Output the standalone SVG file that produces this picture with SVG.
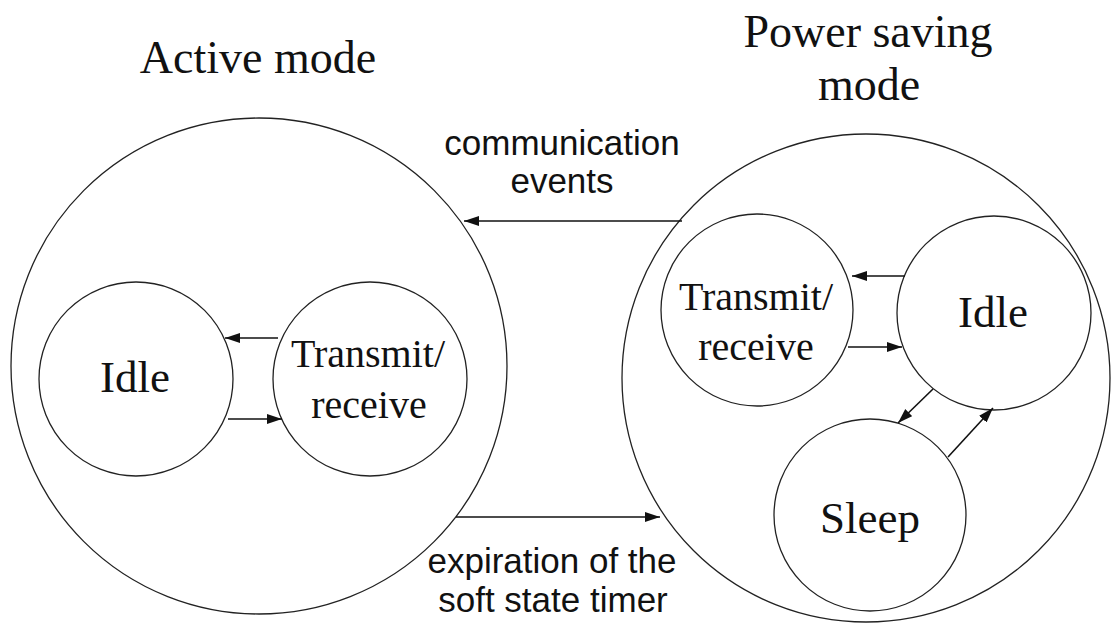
<svg xmlns="http://www.w3.org/2000/svg" width="1112" height="628" viewBox="0 0 1112 628">
<style>
.c{fill:none;stroke:#222;stroke-width:1.3}
.a{stroke:#111;stroke-width:1.6;fill:none;marker-end:url(#ah)}
.s{font-family:"Liberation Serif","Times New Roman",serif;fill:#111;text-anchor:middle}
.n{font-family:"Liberation Sans",Arial,sans-serif;fill:#111;text-anchor:middle;font-size:35px}
</style>
<defs>
<marker id="ah" markerUnits="userSpaceOnUse" markerWidth="16" markerHeight="12" refX="15" refY="5" orient="auto">
<path d="M0,0 L15,5 L0,10 Z" fill="#111"/>
</marker>
</defs>
<rect width="1112" height="628" fill="#fff"/>
<g id="active-mode">
<circle class="c" cx="259" cy="366" r="248"/>
<text class="s" x="258" y="73" font-size="46">Active mode</text>
</g>
<g id="active-idle">
<circle class="c" cx="136" cy="379" r="97"/>
<text class="s" x="135" y="392" font-size="45">Idle</text>
</g>
<g id="active-tx">
<circle class="c" cx="370" cy="379" r="97"/>
<text class="s" x="368" y="367" font-size="40">Transmit/</text>
<text class="s" x="369" y="418" font-size="40">receive</text>
</g>
<g id="power-saving-mode">
<circle class="c" cx="866" cy="378" r="244"/>
<text class="s" x="868" y="47" font-size="46">Power saving</text>
<text class="s" x="869" y="100" font-size="46">mode</text>
</g>
<g id="ps-tx">
<circle class="c" cx="757" cy="310" r="96"/>
<text class="s" x="756" y="310" font-size="40">Transmit/</text>
<text class="s" x="756" y="360" font-size="40">receive</text>
</g>
<g id="ps-idle">
<circle class="c" cx="994" cy="313" r="97"/>
<text class="s" x="993" y="327" font-size="45">Idle</text>
</g>
<g id="ps-sleep">
<circle class="c" cx="870" cy="515" r="96"/>
<text class="s" x="870" y="533" font-size="45">Sleep</text>
</g>
<g id="connectors">
<line class="a" x1="278" y1="338" x2="225" y2="338"/>
<line class="a" x1="228" y1="419" x2="282" y2="419"/>
<line class="a" x1="905" y1="276" x2="852" y2="276"/>
<line class="a" x1="848" y1="347" x2="902" y2="347"/>
<line class="a" x1="933" y1="389" x2="898" y2="423"/>
<line class="a" x1="948" y1="457" x2="993" y2="408"/>
<line class="a" x1="682" y1="221" x2="464" y2="221"/>
<line class="a" x1="456" y1="517" x2="660" y2="517"/>
</g>
<g id="labels">
<text class="n" x="562" y="155">communication</text>
<text class="n" x="562" y="193">events</text>
<text class="n" x="552" y="573">expiration of the</text>
<text class="n" x="553" y="612">soft state timer</text>
</g>
</svg>
